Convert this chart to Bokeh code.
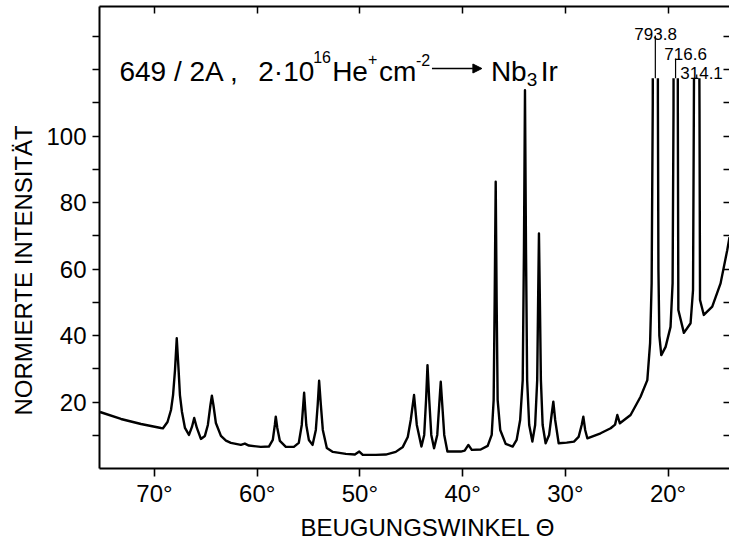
import numpy as np
from bokeh.plotting import figure
from bokeh.models import (Range1d, LinearAxis, FixedTicker, Label, Arrow, NormalHead,
                          ColumnDataSource, CustomJSTickFormatter, Title)
from bokeh.core.properties import value
from bokeh.embed import file_html
from bokeh.resources import INLINE

# ---------------- data ----------------
theta = [75.30, 73.26, 71.31, 69.37, 69.17, 68.73, 68.39, 68.19, 68.00, 67.83,
         67.65, 67.52, 67.32, 67.03, 66.64, 66.35, 66.13, 65.87, 65.48, 65.09,
         64.80, 64.55, 64.41, 64.26, 64.02, 63.53, 63.04, 62.56, 61.59, 61.20,
         60.81, 59.65, 58.86, 58.48, 58.28, 58.19, 58.04, 57.79, 57.21, 56.43,
         55.95, 55.66, 55.43, 55.22, 54.97, 54.61, 54.29, 54.11, 53.97, 53.80,
         53.61, 53.22, 52.63, 51.37, 50.49, 50.06, 49.72, 48.45, 47.48, 46.51,
         45.82, 45.34, 45.05, 44.73, 44.46, 44.01, 43.74, 43.56, 43.42, 43.25,
         43.05, 42.78, 42.47, 42.28, 42.13, 41.98, 41.79, 41.48, 40.18, 39.80,
         39.44, 39.11, 38.24, 37.56, 37.17, 36.98, 36.88, 36.78, 36.69, 36.59,
         36.34, 35.81, 35.13, 34.74, 34.40, 34.15, 34.03, 33.93, 33.83, 33.72,
         33.52, 33.21, 32.94, 32.74, 32.65, 32.57, 32.48, 32.38, 32.21, 31.92,
         31.58, 31.34, 31.17, 30.99, 30.65, 29.87, 29.16, 28.71, 28.41, 28.25,
         28.07, 27.86, 26.57, 25.59, 25.16, 24.94, 24.69, 23.65, 22.68, 22.02,
         21.75, 21.60, 21.49, 21.24, 20.99, 20.94, 20.85, 20.66, 20.24, 19.76,
         19.56, 19.47, 19.27, 19.05, 19.00, 18.46, 17.81, 17.57, 17.49, 17.21,
         16.94, 16.89, 16.52, 15.70, 14.89, 14.24, 14.02]

intensity = [17.0, 14.9, 13.4, 12.2, 12.1, 14.0, 17.6, 22.1, 29.6, 39.2,
             29.6, 22.1, 17.0, 12.2, 10.1, 12.5, 15.2, 12.2, 8.9, 9.8,
             13.1, 19.1, 21.9, 19.1, 13.7, 9.8, 8.4, 7.7, 7.1, 7.5,
             6.9, 6.5, 6.6, 8.6, 13.1, 15.6, 12.2, 8.3, 6.5, 6.5,
             7.7, 13.1, 22.8, 13.1, 8.6, 7.1, 11.6, 19.1, 26.4, 19.1,
             11.6, 6.2, 5.0, 4.4, 4.2, 5.1, 4.1, 4.1, 4.2, 5.0,
             6.5, 9.5, 14.6, 22.1, 13.1, 6.6, 10.1, 20.6, 31.1, 20.6,
             10.1, 6.1, 10.1, 19.1, 26.1, 19.1, 10.1, 5.1, 5.1, 5.4,
             7.1, 5.6, 5.7, 6.8, 10.1, 20.6, 50.7, 86.3, 50.7, 20.6,
             11.6, 7.4, 6.6, 8.6, 14.6, 26.6, 65.7, 113.8, 65.7, 26.6,
             13.1, 8.1, 13.1, 26.6, 50.7, 70.7, 50.7, 26.6, 13.1, 7.6,
             10.1, 16.1, 20.1, 14.6, 7.6, 7.8, 8.1, 9.5, 13.1, 15.6,
             11.6, 9.1, 10.6, 12.1, 13.2, 16.1, 13.6, 16.1, 21.6, 26.6,
             37.7, 55.7, 110.0, 793.8, 110.0, 60.0, 40.0, 34.1, 36.6, 42.6,
             55.7, 108.0, 716.6, 108.0, 47.7, 40.8, 43.7, 53.7, 108.0, 314.1,
             108.0, 50.7, 46.2, 48.7, 55.7, 65.7, 69.6]

# off-scale peaks (annotated with their heights)
peak_theta = [21.24, 19.27, 17.21]
peak_height = [793.8, 716.6, 314.1]
cut_level = 117.4          # the curve is drawn cut off at this level

x_ticks = [70, 60, 50, 40, 30, 20]
y_major = [20, 40, 60, 80, 100]
y_minor = [10, 30, 50, 70, 90, 110, 120, 130]
right_ticks = [10, 20, 30, 40, 50, 60, 70, 80, 90, 100, 110, 120, 130]

title_parts = ["649 / 2A ,", "2·10", "16", "He", "+", "cm", "-2", "Nb", "3", "Ir"]
x_title = "BEUGUNGSWINKEL  Θ"
y_title = "NORMIERTE INTENSITÄT"

# ---------------- layout helpers ----------------
X0, X1 = 75.35, 14.02
Y0, Y1 = 0.0, 139.0
LEFT, RIGHT, TOP, BOTTOM = 98, 729, 6, 468


def px_x(px):
    return X0 + (px - LEFT) * (X1 - X0) / (RIGHT - LEFT)


def px_y(py):
    return Y0 + (BOTTOM - py) * (Y1 - Y0) / (BOTTOM - TOP)


def clip_polyline(x, y, cut):
    ox, oy = [], []
    for i in range(len(x)):
        if i > 0:
            y0, y1 = y[i - 1], y[i]
            if (y0 - cut) * (y1 - cut) < 0:
                t = (cut - y0) / (y1 - y0)
                ox.append(x[i - 1] + t * (x[i] - x[i - 1]))
                oy.append(cut)
                if y1 > cut:
                    ox.append(np.nan)
                    oy.append(np.nan)
        if y[i] <= cut:
            ox.append(x[i])
            oy.append(y[i])
    return np.array(ox), np.array(oy)


FONT = "Liberation Sans"

p = figure(width=729, height=548, output_backend="svg", toolbar_location=None,
           x_range=Range1d(X0, X1), y_range=Range1d(Y0, Y1),
           min_border_left=LEFT, min_border_right=0, min_border_top=TOP,
           min_border_bottom=548 - BOTTOM)
p.outline_line_color = None
p.xgrid.visible = False
p.ygrid.visible = False
p.background_fill_color = "white"
p.border_fill_color = "white"

# bottom axis
xa = p.xaxis[0]
xa.ticker = FixedTicker(ticks=x_ticks)
xa.formatter = CustomJSTickFormatter(code="return tick.toFixed(0) + '\u00b0';")
xa.major_tick_out = 8
xa.major_tick_in = 0
xa.minor_tick_out = 0
xa.minor_tick_in = 0
xa.axis_line_width = 2
xa.major_tick_line_width = 1.6
xa.major_label_text_font = FONT
xa.major_label_text_font_size = "24px"
xa.major_label_text_color = "black"
xa.major_label_standoff = 3

# left axis
ya = p.yaxis[0]
ya.ticker = FixedTicker(ticks=y_major, minor_ticks=y_minor)
ya.major_tick_out = 7
ya.major_tick_in = 0
ya.minor_tick_out = 7
ya.minor_tick_in = 0
ya.axis_line_width = 2
ya.major_tick_line_width = 1.5
ya.minor_tick_line_width = 1.5
ya.minor_tick_line_color = "black"
ya.major_label_text_font = FONT
ya.major_label_text_font_size = "24px"
ya.major_label_text_color = "black"
ya.major_label_standoff = 6

blank = CustomJSTickFormatter(code="return '';")

# top axis (frame line with inward ticks)
top = LinearAxis(ticker=FixedTicker(ticks=x_ticks), formatter=blank,
                 major_tick_in=7, major_tick_out=0,
                 minor_tick_in=0, minor_tick_out=0, axis_line_width=2,
                 major_tick_line_width=1.5, major_label_text_font_size="0px",
                 major_label_standoff=0)
p.add_layout(top, "above")

# right axis (ticks only)
right = LinearAxis(ticker=FixedTicker(ticks=right_ticks), formatter=blank,
                   major_tick_in=6, major_tick_out=0,
                   minor_tick_in=0, minor_tick_out=0, axis_line_alpha=0,
                   major_tick_line_width=1.6, major_label_text_font_size="0px",
                   major_label_standoff=0)
p.add_layout(right, "right")

# axis titles as side titles (offset along the axis)
p.add_layout(Title(text=y_title, align="left", offset=53, standoff=14,
                   text_font=FONT, text_font_size="24px", text_font_style="normal",
                   text_color="black"), "left")
p.add_layout(Title(text=x_title, align="left", offset=201, standoff=4,
                   text_font=FONT, text_font_size="24px", text_font_style="normal",
                   text_color="black"), "below")

# curve
cx, cy = clip_polyline(theta, intensity, cut_level)
p.line(x="x", y="y", source=ColumnDataSource(dict(x=cx, y=cy)),
       line_color="black", line_width=2.4, line_join="round")

# peak annotations
label_px = [655, 685, 701]       # label centre (px)
label_base_px = [33, 53, 72]     # label baseline (px)
leader_top_px = [35, 58, 74]
p.segment(x0=peak_theta, y0=[cut_level] * 3, x1=peak_theta,
          y1=[px_y(v) for v in leader_top_px], line_color="black", line_width=1.2)
p.text(x=[px_x(v) for v in label_px], y=[px_y(v) for v in label_base_px],
       text=[f"{h:.1f}" for h in peak_height], text_align="center",
       text_baseline="alphabetic", text_font=value(FONT), text_font_size="17px",
       text_color="black")

# title text pieces: (left px, baseline px, size)
title_pos = [(118, 71, 28), (257, 71, 28), (312, 56, 16), (331, 71, 28), (367, 58, 16),
             (378, 71, 28), (415, 59, 16), (490, 71, 28), (526, 79, 19), (540, 71, 28)]
for txt, (lx, by, fs) in zip(title_parts, title_pos):
    p.add_layout(Label(x=px_x(lx), y=px_y(by), text=txt, text_align="left",
                       text_baseline="alphabetic", text_font=FONT,
                       text_font_size=f"{fs}px", text_color="black"))

p.add_layout(Arrow(end=NormalHead(size=9, fill_color="black", line_color="black"),
                   x_start=px_x(431), y_start=px_y(68), x_end=px_x(481), y_end=px_y(68),
                   line_width=1.4, line_color="black"))

open("out.html", "w").write(file_html(p, INLINE))
